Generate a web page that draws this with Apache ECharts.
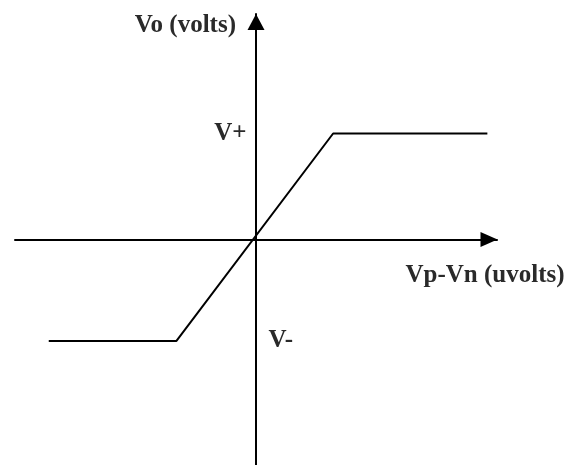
<!DOCTYPE html>
<html>
<head>
<meta charset="utf-8">
<script src="https://cdn.jsdelivr.net/npm/echarts@6/dist/echarts.min.js"></script>
<style>
  html, body { margin: 0; padding: 0; background: #fff; }
  #chart { width: 577px; height: 465px; }
</style>
</head>
<body>
<div id="chart"></div>
<script>
// transfer curve of a saturating op-amp (arbitrary units)
var inputVals = [-8.6, -3.3, 3.2, 9.6];
var outputVals = [-4.5, -4.5, 4.7, 4.7];
var railLabels = ['V+', 'V-'];
var railVals = [4.7, -4.5];
var xName = 'Vp-Vn (uvolts)';
var yName = 'Vo (volts)';

var FONT = '"Liberation Serif", "Times New Roman", serif';

var myChart = echarts.init(document.getElementById('chart'));

var curve = inputVals.map(function (x, i) { return [x, outputVals[i]]; });

var textStyle = { fontFamily: FONT, fontSize: 25, fontWeight: 'bold', color: '#2a2a2a' };

var option = {
  animation: false,
  backgroundColor: '#fff',
  grid: { left: 15, right: 80, top: 14, bottom: 0 },
  xAxis: {
    type: 'value',
    min: -10,
    max: 10,
    name: xName,
    nameLocation: 'end',
    nameGap: -12,
    nameTextStyle: Object.assign({}, textStyle, {
      align: 'center', verticalAlign: 'top', padding: [24, 0, 0, 0]
    }),
    axisLine: {
      onZero: true,
      symbol: ['none', 'triangle'],
      symbolSize: [15, 17],
      symbolOffset: [0, -8],
      lineStyle: { color: '#000', width: 2 }
    },
    axisTick: { show: false },
    axisLabel: { show: false },
    splitLine: { show: false }
  },
  yAxis: {
    type: 'value',
    min: -10,
    max: 10,
    name: yName,
    nameLocation: 'end',
    nameGap: -12,
    nameTextStyle: Object.assign({}, textStyle, {
      align: 'right', verticalAlign: 'middle', padding: [0, 20, 0, 0]
    }),
    axisLine: {
      onZero: true,
      symbol: ['none', 'triangle'],
      symbolSize: [17, 16],
      symbolOffset: [0, -8],
      lineStyle: { color: '#000', width: 2 }
    },
    axisTick: { show: false },
    axisLabel: { show: false },
    splitLine: { show: false }
  },
  series: [
    {
      type: 'line',
      data: curve,
      symbol: 'none',
      lineStyle: { color: '#000', width: 2 },
      silent: true,
      markPoint: {
        symbol: 'circle',
        symbolSize: 1,
        itemStyle: { color: 'rgba(0,0,0,0)' },
        label: textStyle,
        data: railLabels.map(function (t, i) {
          return {
            coord: [0, railVals[i]],
            value: t,
            label: {
              formatter: t,
              position: i === 0 ? 'left' : 'right',
              distance: i === 0 ? 9 : 12
            }
          };
        })
      }
    }
  ]
};

myChart.setOption(option);
</script>
</body>
</html>
